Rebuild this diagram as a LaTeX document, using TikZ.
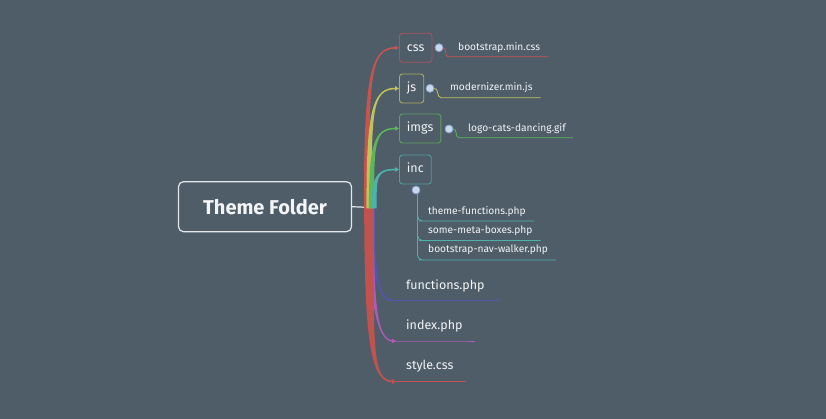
\documentclass[tikz,border=0pt]{standalone}
\usepackage{fontspec}
\setmainfont{Fira Sans}
\usetikzlibrary{calc,arrows.meta}
\definecolor{bg}{HTML}{4F5D69}
\definecolor{rootline}{HTML}{E2E7EC}
\definecolor{cred}{HTML}{C8544F}
\definecolor{cyel}{HTML}{C0C25A}
\definecolor{cgrn}{HTML}{5DB65A}
\definecolor{cteal}{HTML}{4CB3AA}
\definecolor{cblue}{HTML}{5257AC}
\definecolor{cpurp}{HTML}{B05AB8}
\definecolor{cred2}{HTML}{C0524F}
\definecolor{bred}{HTML}{A9555B}
\definecolor{byel}{HTML}{A9AD5C}
\definecolor{bgrn}{HTML}{5DA35E}
\definecolor{bteal}{HTML}{4E9F9A}
\definecolor{txt}{HTML}{F3F5F7}
\definecolor{dotfill}{HTML}{CBD8EC}
\definecolor{dotdraw}{HTML}{86A2C8}
% tapered branch: color, start, end, half width start, half width end, a, b, sign
\newcommand\taper[8]{%
  \fill[#1] let \p1=(#2), \p2=(#3) in
   ({\x1-#4},\y1) .. controls ({\x1-#4},{\y1+#6*((\y2)-(\y1))}) and ({\x1+#7*((\x2)-(\x1))},{\y2+(#8)*(#5)}) .. (\x2,{\y2+(#8)*(#5)})
   -- (\x2,{\y2-(#8)*(#5)}) .. controls ({\x1+#7*((\x2)-(\x1))},{\y2-(#8)*(#5)}) and ({\x1+#4},{\y1+#6*((\y2)-(\y1))}) .. ({\x1+#4},\y1) -- cycle;}
\begin{document}
\begin{tikzpicture}[x=1pt,y=-1pt,
  rootbox/.style={draw=rootline, line width=1.2pt, rounded corners=5pt, minimum width=173pt, minimum height=50pt, text=txt, font=\fontsize{20}{24}\selectfont\bfseries, inner sep=0pt},
  topbox/.style={draw=#1, line width=0.9pt, rounded corners=3pt, minimum height=29pt, inner xsep=7.5pt, inner ysep=0pt, text height=9pt, text depth=2.5pt, anchor=west, text=txt, font=\fontsize{12.5}{15}\selectfont, fill=bg},
  lowtxt/.style={anchor=base west, inner sep=0pt, text=txt, font=\fontsize{12.5}{15}\selectfont},
  subtxt/.style={anchor=west, inner sep=0pt, text=txt, font=\fontsize{10.2}{12}\selectfont},
  dotnode/.style={circle, fill=dotfill, draw=dotdraw, line width=0.8pt, minimum size=8pt, inner sep=0pt},
  tip/.style={line width=1pt, -{Triangle[length=4pt,width=4.5pt]}},
  ul/.style={line width=0.8pt}
]
\fill[bg] (0,0) rectangle (826,419);
\useasboundingbox (0,0) rectangle (826,419);

% root
\node[rootbox] (root) at (265,206.7) {Theme Folder};
\coordinate (trunk) at (366,207.3);
\draw[rootline, line width=1.2pt] (root.east) -- (trunk);

% main topic boxes
\node[topbox=bred] (css) at (399,47.8) {css};
\node[topbox=byel] (js) at (399,88.5) {js};
\node[topbox=bgrn] (imgs) at (399,128.5) {imgs};
\node[topbox=bteal] (inc) at (399,169.5) {inc};

% branch anchors
\coordinate (tRed) at (366.5,208.5);
\coordinate (tYel) at (369,208.5);
\coordinate (tGrn) at (371.5,208.5);
\coordinate (tTeal) at (374,208.5);
\coordinate (cssin) at ($(css.west)+(-3.5pt,0)$);
\coordinate (jsin) at ($(js.west)+(-3.5pt,0)$);
\coordinate (imgsin) at ($(imgs.west)+(-3.5pt,0)$);
\coordinate (incin) at ($(inc.west)+(-3.5pt,0)$);

% lower branches
\node[lowtxt] (fn) at (406,289) {functions.php};
\node[lowtxt] (ix) at (406,329.5) {index.php};
\node[lowtxt] (st) at (406,369.5) {style.css};
\coordinate (bBlue) at (372,206);
\coordinate (bPurp) at (371,206);
\coordinate (bRed) at (369,206);
\coordinate (fnA) at (392,300.5);
\coordinate (ixA) at (393,341);
\coordinate (stA) at (393,381.5);

\taper{cblue}{bBlue}{fnA}{3pt}{1pt}{0.5}{0.15}{-1}
\taper{cpurp}{bPurp}{ixA}{3pt}{0.8pt}{0.6}{0.15}{-1}
\taper{cred2}{bRed}{stA}{4.8pt}{0.9pt}{0.8}{0.1}{-1}
\draw[cblue, line width=1.8pt] (fnA) -- (fnA -| fn.east) -- ++(15pt,0);
\draw[cpurp, tip] (ixA) -- ++(3pt,0);
\draw[cpurp, ul] (ixA) -- (ixA -| ix.east) -- ++(12pt,0);
\draw[cred2, tip] (stA) -- ++(3pt,0);
\draw[cred2, ul] (stA) -- (stA -| st.east) -- ++(12pt,0);

% upper branches
\taper{cred}{tRed}{cssin}{2.6pt}{0.8pt}{0.8}{0.1}{1}
\taper{cyel}{tYel}{jsin}{2.6pt}{0.8pt}{0.8}{0.1}{1}
\taper{cgrn}{tGrn}{imgsin}{2.6pt}{0.8pt}{0.8}{0.1}{1}
\taper{cteal}{tTeal}{incin}{2.6pt}{0.8pt}{0.8}{0.1}{1}
\draw[cred, tip] (cssin) -- (css.west);
\draw[cyel, tip] (jsin) -- (js.west);
\draw[cgrn, tip] (imgsin) -- (imgs.west);
\draw[cteal, tip] (incin) -- (inc.west);

% subtopics css
\node[dotnode] (cssdot) at (439,47.7) {};
\node[subtxt] (bms) at (458,47.7) {bootstrap.min.css};
\coordinate (bmsA) at (448,56.7);
\draw[cred, ul] (cssdot.east) to[out=0,in=180] (bmsA) -- (bmsA -| bms.east) -- ++(8pt,0);

% subtopics js
\node[dotnode] (jsdot) at (430,88.3) {};
\node[subtxt] (mod) at (450,88) {modernizer.min.js};
\coordinate (modA) at (441,97.7);
\draw[cyel, ul] (jsdot.east) to[out=0,in=180] (modA) -- (modA -| mod.east) -- ++(8pt,0);

% subtopics imgs
\node[dotnode] (imgsdot) at (449,129) {};
\node[subtxt] (logo) at (468,128.5) {logo-cats-dancing.gif};
\coordinate (logoA) at (459,137.7);
\draw[cgrn, ul] (imgsdot.east) to[out=0,in=180] (logoA) -- (logoA -| logo.east) -- ++(7pt,0);

% subtopics inc
\node[subtxt] (tf) at (428,212) {theme-functions.php};
\node[subtxt] (smb) at (428,231) {some-meta-boxes.php};
\node[subtxt] (bnw) at (428,250) {bootstrap-nav-walker.php};
\coordinate (tfA) at (424,221);
\coordinate (smbA) at (424,240.5);
\coordinate (bnwA) at (424,260);
\coordinate (incv) at (417.5,194);
\draw[cteal, ul, rounded corners=5pt] (incv) |- (tfA) -- (tfA -| tf.east) -- ++(8pt,0);
\draw[cteal, ul, rounded corners=5pt] (incv) |- (smbA) -- (smbA -| smb.east) -- ++(8pt,0);
\draw[cteal, ul, rounded corners=5pt] (incv) |- (bnwA) -- (bnwA -| bnw.east) -- ++(8pt,0);
\node[dotnode] (incdot) at (416,190) {};
\end{tikzpicture}
\end{document}
